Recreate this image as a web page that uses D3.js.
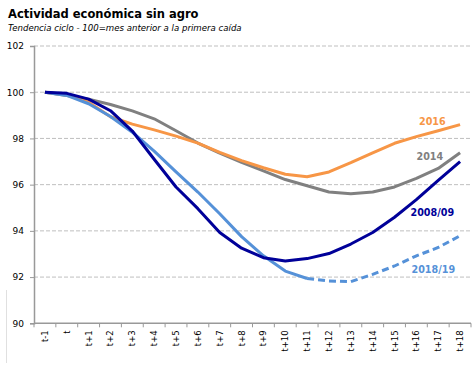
<!DOCTYPE html>
<html><head><meta charset="utf-8">
<script src="https://cdn.jsdelivr.net/npm/d3@7"></script>
<style>body{margin:0;background:#fff}svg{display:block}</style>
</head><body>
<script>
const categories = ["t-1","t","t+1","t+2","t+3","t+4","t+5","t+6","t+7","t+8","t+9","t+10","t+11","t+12","t+13","t+14","t+15","t+16","t+17","t+18"];
const s2016 = [100,99.88,99.57,98.94,98.62,98.37,98.1,97.8,97.4,97.04,96.73,96.45,96.34,96.55,96.95,97.38,97.79,98.08,98.33,98.6];
const s2014 = [100,99.86,99.7,99.47,99.19,98.85,98.33,97.8,97.36,96.96,96.6,96.22,95.95,95.68,95.61,95.68,95.9,96.27,96.7,97.38];
const s2008 = [100,99.95,99.7,99.2,98.32,97.1,95.9,94.96,93.93,93.25,92.84,92.7,92.8,93.02,93.43,93.93,94.59,95.35,96.19,97.0];
const s2018 = [100,99.86,99.5,98.95,98.27,97.45,96.55,95.68,94.74,93.75,92.92,92.26,91.94,91.83,91.8,92.12,92.48,92.92,93.28,93.79];
const s2018SolidEnd = 12; // solid through t+11, dashed afterwards
const yTicks = [90,92,94,96,98,100,102];
const seriesLabels = ["2016","2014","2008/09","2018/19"];

const W=474,H=365;
const svg=d3.select("body").append("svg").attr("width",W).attr("height",H);
const x=d3.scaleBand().domain(categories).range([34,471]);
const y=d3.scaleLinear().domain([90,102]).range([323.3,46]);
const xc=c=>x(c)+x.bandwidth()/2;

// title
svg.append("text").attr("x",8).attr("y",18).attr("font-family","DejaVu Sans").attr("font-weight","bold").attr("font-size",11.5).attr("fill","#000").text("Actividad económica  sin agro");
svg.append("text").attr("x",8).attr("y",31).attr("font-family","DejaVu Sans").attr("font-style","italic").attr("font-size",8.6).attr("fill","#000").text("Tendencia ciclo - 100=mes anterior a la primera caída");

// gridlines
svg.append("g").selectAll("line").data(yTicks.filter(d=>d>90)).join("line")
 .attr("x1",34).attr("x2",471).attr("y1",d=>y(d)).attr("y2",d=>y(d))
 .attr("stroke","#bfbfbf").attr("stroke-width",1).attr("stroke-dasharray","4,2");

// y axis
const ya=svg.append("g").attr("transform","translate(34,0)").call(d3.axisLeft(y).tickValues(yTicks).tickSize(4).tickPadding(6));
ya.select(".domain").attr("stroke","#999").attr("stroke-width",1.5);
ya.selectAll(".tick line").attr("stroke","#999");
ya.selectAll("text").attr("font-family","DejaVu Sans").attr("font-size",9).attr("fill","#000");

// x axis
const xg=svg.append("g").attr("transform","translate(0,"+y(90)+")");
xg.append("line").attr("x1",34).attr("x2",471).attr("stroke","#999").attr("stroke-width",1.5);
const bounds=categories.map(c=>x(c)).concat([x.range()[1]]);
xg.selectAll("line.tk").data(bounds).join("line").attr("class","tk")
 .attr("x1",d=>d).attr("x2",d=>d).attr("y1",0).attr("y2",4).attr("stroke","#999");
xg.selectAll("text").data(categories).join("text")
 .attr("transform",d=>"translate("+xc(d)+",7) rotate(-90)")
 .attr("text-anchor","end").attr("dy","0.35em")
 .attr("font-family","DejaVu Sans").attr("font-size",8.5).attr("fill","#000").text(d=>d);

// faint frame line
svg.append("line").attr("x1",6.5).attr("x2",6.5).attr("y1",290).attr("y2",363).attr("stroke","#e0e0e0");

const line=d3.line().x((d,i)=>xc(categories[i])).y(d=>y(d));
const lineOff=(off)=>d3.line().x((d,i)=>xc(categories[i+off])).y(d=>y(d));
const addLine=(data,color,dash)=>svg.append("path").datum(data).attr("d",line).attr("fill","none")
 .attr("stroke",color).attr("stroke-width",3).attr("stroke-linejoin","round").attr("stroke-dasharray",dash||null);

const cOr="#F79646",cGr="#808080",cDk="#000099",cLt="#5591D8";
addLine(s2014,cGr);
addLine(s2016,cOr);
svg.append("path").datum(s2018.slice(0,s2018SolidEnd+1)).attr("d",line).attr("fill","none").attr("stroke",cLt).attr("stroke-width",3).attr("stroke-linejoin","round");
svg.append("path").datum(s2018.slice(s2018SolidEnd)).attr("d",lineOff(s2018SolidEnd)).attr("fill","none").attr("stroke",cLt).attr("stroke-width",3).attr("stroke-dasharray","7,4");
addLine(s2008,cDk);

const lab=(t,xx,yy,c)=>svg.append("text").attr("x",xx).attr("y",yy).attr("font-family","DejaVu Sans").attr("font-weight","bold").attr("font-size",9.6).attr("fill",c).text(t);
lab(seriesLabels[0],419,125,cOr);
lab(seriesLabels[1],416.5,160,cGr);
lab(seriesLabels[2],410.5,216,cDk);
lab(seriesLabels[3],411.5,273,cLt);
</script>
</body></html>
